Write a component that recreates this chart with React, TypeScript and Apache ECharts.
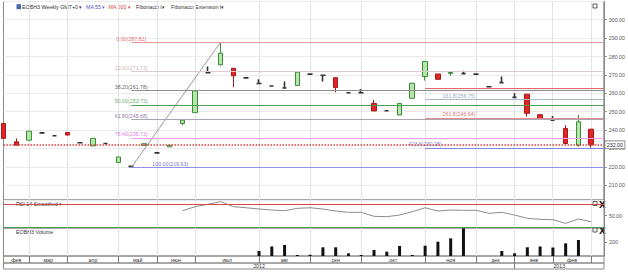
import React, { useEffect, useRef } from "react";
import * as echarts from "echarts";

// EOBH3 weekly candles: open / close / low / high
const opens = [243.6, 233.6, 234.5, 238.5, 236.9, 238.7, 233.1, 231.4, 232.7, 222.4, 220.3, 231.7, 227.6, 230.9, 243.6, 249.5, 271.2, 275.5, 273.6, 268.4, 265.3, 264.0, 262.9, 264.2, 270.4, 269.8, 268.5, 260.3, 260.3, 254.5, 250.5, 248.2, 257.3, 269.1, 270.5, 270.8, 270.7, 270.4, 263.6, 265.8, 257.8, 259.5, 248.4, 245.4, 240.9, 231.8, 240.5];
const closes = [235.5, 231.8, 239.4, 238.5, 236.9, 237.3, 233.1, 235.5, 232.7, 225.4, 220.3, 232.6, 227.6, 231.8, 245.4, 261.3, 271.2, 281.8, 269.5, 268.4, 265.3, 264.0, 262.9, 271.5, 270.4, 269.8, 263.1, 260.3, 260.3, 250.4, 250.5, 254.5, 265.5, 277.3, 267.6, 271.3, 270.7, 270.4, 263.6, 265.8, 257.8, 249.1, 246.1, 245.4, 232.7, 244.5, 232.0];
const lows = [235.5, 231.8, 234.5, 238.5, 236.9, 237.3, 233.1, 231.4, 232.7, 222.4, 219.63, 231.7, 227.6, 230.9, 242.7, 249.5, 271.2, 275.0, 263.3, 268.4, 265.3, 264.0, 262.9, 264.2, 270.4, 266.4, 260.6, 260.3, 260.3, 250.4, 250.5, 248.2, 257.3, 266.9, 267.6, 269.5, 270.7, 270.4, 263.6, 265.8, 257.8, 247.3, 245.8, 245.4, 232.7, 231.0, 230.5];
const highs = [243.6, 235.5, 239.4, 238.5, 236.9, 238.7, 233.1, 235.5, 232.7, 225.4, 220.3, 232.6, 227.6, 231.8, 245.4, 261.3, 274.5, 287.82, 273.6, 268.4, 267.6, 264.0, 266.4, 271.5, 270.4, 269.8, 268.5, 260.3, 262.4, 256.4, 250.5, 254.5, 265.5, 277.3, 270.5, 271.3, 272.2, 270.4, 263.6, 269.1, 260.0, 259.5, 248.4, 247.6, 242.7, 248.2, 240.5];

// RSI 14 (smoothed)
const rsi14 = [null, null, null, null, null, null, null, null, null, null, null, null, null, null, 58.5, 65.4, 69.5, 74.0, 65.4, 63.6, 61.4, 59.7, 58.5, 62.6, 63.6, 61.4, 58.0, 55.7, 55.7, 48.9, 48.2, 51.1, 56.8, 63.6, 58.0, 59.7, 59.2, 59.2, 54.0, 55.7, 51.1, 45.4, 43.7, 43.0, 36.9, 44.2, 39.6];

// Weekly volume
const volumes = [null, null, null, null, null, null, null, null, null, null, null, null, null, null, null, null, null, null, null, null, 73, 139, 161, 15, 18, 127, 127, 39, 15, 88, 63, 146, 15, 150, 209, 258, 404, null, null, 73, 39, 127, 139, 124, 185, 234, null];

// Calendar: candle index where each month / year begins
const monthStarts = [0, 2, 5, 9, 12, 15, 20, 24, 28, 33, 37, 40, 43, 46];
const monthNames = ["фев", "мар", "апр", "май", "июн", "июл", "авг", "сен", "окт", "ноя", "дек", "янв", "фев", "мар"];
const yearStarts = [0, 40];
const yearNames = ["2012", "2013"];

// Fibonacci retracement (swing low -> swing high)
const fibRatios = ["0.00", "23.60", "38.20", "50.00", "61.80", "76.40", "100.00"];
const fibLevels = [287.82, 271.73, 261.78, 253.73, 245.68, 235.73, 219.63];

// Fibonacci extension
const extRatios = ["100.0", "161.8", "261.8", "423.6"];
const extLevels = [262.99, 256.75, 246.64, 230.28];
const extStart = 33;

const FONT = "Liberation Sans, Arial, sans-serif";
const FS = 5.3;

const fibLineColors = ["#e79a9a", "#d9cdcd", "#8e8e8e", "#4f9b4f", "#aaa4b2", "#f2a0f2", "#9090e6"];
const fibTextColors = ["#d64a4a", "#c49c9c", "#333333", "#3f8f3f", "#7a4f8a", "#d452d4", "#4b4bb8"];
const extLineColors = ["#e36a6a", "#a9b8cc", "#e58a8a", "#7f89d9"];
const extTextColors = ["#d64a4a", "#6d8fb5", "#d64a4a", "#4b5bc0"];

function buildOption() {
  const n = opens.length;
  const lastSlot = n; // one empty slot after the last candle
  const weeks = Array.from({ length: n + 1 }, (_, i) => `w${i}`);
  const monthStartSet = new Set(monthStarts.filter((s) => s > 0));

  // half-week slots for the calendar rows
  const halfCount = 2 * lastSlot + 1;
  const monthCells = Array(halfCount).fill("");
  monthStarts.forEach((s, i) => {
    const e = i + 1 < monthStarts.length ? monthStarts[i + 1] : lastSlot;
    if (e - s >= 2) monthCells[s + e] = monthNames[i];
  });
  const yearCells = Array(halfCount).fill("");
  yearStarts.forEach((s, i) => {
    const e = i + 1 < yearStarts.length ? yearStarts[i + 1] : lastSlot;
    yearCells[s + e] = yearNames[i];
  });
  const monthSep = new Set(monthStarts.filter((s) => s > 0).map((s) => 2 * s));
  const yearSep = new Set(yearStarts.filter((s) => s > 0).map((s) => 2 * s));

  const candleData = opens.map((o, i) => {
    const item: any = { value: [o, closes[i], lows[i], highs[i]] };
    if (o === closes[i]) item.itemStyle = { borderWidth: 1.6 };
    return item;
  });

  const lowIdx = lows.indexOf(Math.min(...lows));
  const highIdx = highs.indexOf(Math.max(...highs));
  const lastClose = closes[n - 1];

  const fibLines = fibLevels.map((lv, i) => [
    { coord: [lowIdx, lv], lineStyle: { color: fibLineColors[i], width: 1, type: "solid" } },
    { coord: [lastSlot, lv] },
  ]);
  const extLines = extLevels.map((lv, i) => [
    { coord: [extStart, lv], lineStyle: { color: extLineColors[i], width: 1, type: "solid" } },
    { coord: [lastSlot, lv] },
  ]);

  const fibLabels = fibLevels.map((lv, i) => ({
    value: [lowIdx, lv],
    label: {
      formatter: `${fibRatios[i]}(${lv.toFixed(2)})`,
      color: fibTextColors[i],
      offset: i === fibLevels.length - 1 ? [39, 0] : [0, 0],
    },
  }));
  const extLabels = extLevels
    .map((lv, i) => ({
      value: [extStart, lv],
      label: {
        formatter: `${extRatios[i]}(${lv.toFixed(2)})`,
        color: extTextColors[i],
        offset: i === extLevels.length - 1 ? [0, 0] : [34, 0],
      },
    }))
    .slice(1);

  const gridBase = { left: 3.5, width: 600.5, show: true, borderColor: "#8a8a8a", borderWidth: 1, backgroundColor: "transparent" };
  const weekAxis = (gridIndex: number) => ({
    type: "category",
    gridIndex,
    data: weeks,
    boundaryGap: false,
    axisLine: { show: false },
    axisTick: { show: false },
    axisLabel: { show: false },
    splitLine: { show: true, interval: (i: number) => monthStartSet.has(i), lineStyle: { color: "#e3e3e3", width: 1 } },
  });
  const rightAxisCommon = {
    position: "right",
    axisLine: { show: true, lineStyle: { color: "#8a8a8a" } },
    axisTick: { show: true, length: 3, lineStyle: { color: "#8a8a8a" } },
  };

  const txt = (x: number, y: number, text: string, fill = "#333", extra: any = {}) => ({
    type: "text",
    x,
    y,
    silent: true,
    style: { text, fill, font: `${FS}px ${FONT}`, verticalAlign: "middle", ...extra },
  });
  const closeBox = (y: number) => [
    { type: "rect", shape: { x: 593, y: y - 2, width: 4, height: 4 }, style: { fill: "#fff", stroke: "#333", lineWidth: 0.8 } },
    txt(599, y, "x", "#222", { fontWeight: "bold", font: `bold 5.5px ${FONT}` }),
  ];

  return {
    animation: false,
    textStyle: { fontFamily: FONT },
    grid: [
      { ...gridBase, top: 1.5, height: 198.5 },
      { ...gridBase, top: 200, height: 28 },
      { ...gridBase, top: 228, height: 28 },
      { ...gridBase, top: 256, height: 7 },
      { ...gridBase, top: 263, height: 6 },
    ],
    xAxis: [
      weekAxis(0),
      weekAxis(1),
      weekAxis(2),
      {
        type: "category",
        gridIndex: 3,
        data: monthCells,
        boundaryGap: false,
        axisLine: { show: false },
        axisTick: { show: false },
        axisLabel: { show: true, interval: 0, inside: true, margin: 0.3, fontSize: FS, color: "#333" },
        splitLine: { show: true, interval: (k: number) => monthSep.has(k), lineStyle: { color: "#777", width: 1 } },
      },
      {
        type: "category",
        gridIndex: 4,
        data: yearCells,
        boundaryGap: false,
        axisLine: { show: false },
        axisTick: { show: false },
        axisLabel: { show: true, interval: 0, inside: true, margin: 0.1, fontSize: FS, color: "#333" },
        splitLine: { show: true, interval: (k: number) => yearSep.has(k), lineStyle: { color: "#777", width: 1 } },
      },
    ],
    yAxis: [
      {
        type: "value",
        gridIndex: 0,
        ...rightAxisCommon,
        min: 202,
        max: 309.9,
        splitNumber: 10,
        minInterval: 10,
        maxInterval: 10,
        axisLabel: { fontSize: FS, color: "#555", margin: 5, showMinLabel: false, showMaxLabel: false, formatter: (v: number) => v.toFixed(2) },
        splitLine: { show: true, lineStyle: { color: "#ebebeb", width: 1 } },
      },
      {
        type: "value",
        gridIndex: 1,
        ...rightAxisCommon,
        min: 28.8,
        max: 76.9,
        axisTick: { show: true, length: 3, lineStyle: { color: "#8a8a8a" }, customValues: [50] },
        axisLabel: { fontSize: FS, color: "#555", margin: 5, customValues: [50], formatter: (v: number) => v.toFixed(2) },
        splitLine: { show: false },
      },
      {
        type: "value",
        gridIndex: 2,
        ...rightAxisCommon,
        min: 0,
        max: 409,
        axisTick: { show: true, length: 3, lineStyle: { color: "#8a8a8a" }, customValues: [200] },
        axisLabel: { fontSize: FS, color: "#555", margin: 5, customValues: [200], formatter: (v: number) => String(v) },
        splitLine: { show: false },
      },
      { type: "value", gridIndex: 3, show: false },
      { type: "value", gridIndex: 4, show: false },
    ],
    series: [
      {
        name: "fib",
        type: "line",
        xAxisIndex: 0,
        yAxisIndex: 0,
        data: [
          [lowIdx, fibLevels[fibLevels.length - 1]],
          [highIdx, fibLevels[0]],
        ],
        symbol: "none",
        silent: true,
        lineStyle: { color: "#9a9a9a", width: 1 },
        markLine: {
          silent: true,
          symbol: ["none", "none"],
          label: { show: false },
          data: [...fibLines, ...extLines],
        },
      },
      {
        name: "EOBH3",
        type: "candlestick",
        xAxisIndex: 0,
        yAxisIndex: 0,
        barWidth: 5,
        clip: true,
        data: candleData,
        itemStyle: {
          color: "#b3e6a7",
          color0: "#e42424",
          borderColor: "#3b8b3b",
          borderColor0: "#a51b1b",
          borderColorDoji: "#333",
          borderWidth: 1,
        },
        markLine: {
          silent: true,
          symbol: ["none", "none"],
          data: [{ yAxis: lastClose }],
          lineStyle: { color: "#e03a3a", width: 1.5, type: "dotted" },
          label: {
            show: true,
            position: "end",
            distance: 1.5,
            formatter: lastClose.toFixed(2),
            fontSize: FS,
            color: "#222",
            backgroundColor: "#fff",
            borderColor: "#777",
            borderWidth: 0.8,
            padding: [1.2, 1.5, 0.8, 1.5],
          },
        },
      },
      {
        name: "fibLabels",
        type: "scatter",
        xAxisIndex: 0,
        yAxisIndex: 0,
        symbolSize: 0,
        silent: true,
        data: [...fibLabels, ...extLabels],
        label: { show: true, position: "top", distance: 1, fontSize: FS },
      },
      {
        name: "RSI 14",
        type: "line",
        xAxisIndex: 1,
        yAxisIndex: 1,
        data: rsi14,
        symbol: "none",
        silent: true,
        lineStyle: { color: "#8c8c8c", width: 1 },
        markLine: {
          silent: true,
          symbol: ["none", "none"],
          label: { show: false },
          data: [
            { yAxis: 70, lineStyle: { color: "#d94848", width: 1, type: "solid" } },
            { yAxis: 30, lineStyle: { color: "#4f9b4f", width: 1, type: "solid" } },
          ],
        },
      },
      {
        name: "Volume",
        type: "bar",
        xAxisIndex: 2,
        yAxisIndex: 2,
        data: volumes,
        barWidth: 3,
        silent: true,
        itemStyle: { color: "#111" },
      },
    ],
    graphic: [
      { type: "rect", shape: { x: 16.5, y: 4.2, width: 4.5, height: 5 }, style: { fill: "#4768b0" }, silent: true },
      txt(22, 6.8, "EOBH3 Weekly GMT+0 ▾"),
      txt(86, 6.8, "MA 55 ▾", "#5656c8"),
      txt(108.5, 6.8, "MA 200 ▾", "#d84040"),
      txt(136, 6.8, "Fibonacci I▾"),
      txt(171, 6.8, "Fibonacci Extension I▾"),
      { type: "rect", shape: { x: 593, y: 4, width: 4, height: 4 }, style: { fill: "#fff", stroke: "#333", lineWidth: 0.8 }, silent: true },
      txt(16, 204.3, "RSI 14 Smoothed ▾"),
      ...closeBox(203.5),
      txt(16, 232.3, "EOBH3 Volume"),
      ...closeBox(230),
    ],
  };
}

export default function App() {
  const ref = useRef<HTMLDivElement>(null);
  useEffect(() => {
    const chart = echarts.init(ref.current!, null, { renderer: "svg" });
    chart.setOption(buildOption() as any);
    return () => chart.dispose();
  }, []);
  return <div ref={ref} style={{ position: "absolute", left: 0, top: 0, width: 628, height: 272, background: "#fff" }} />;
}
